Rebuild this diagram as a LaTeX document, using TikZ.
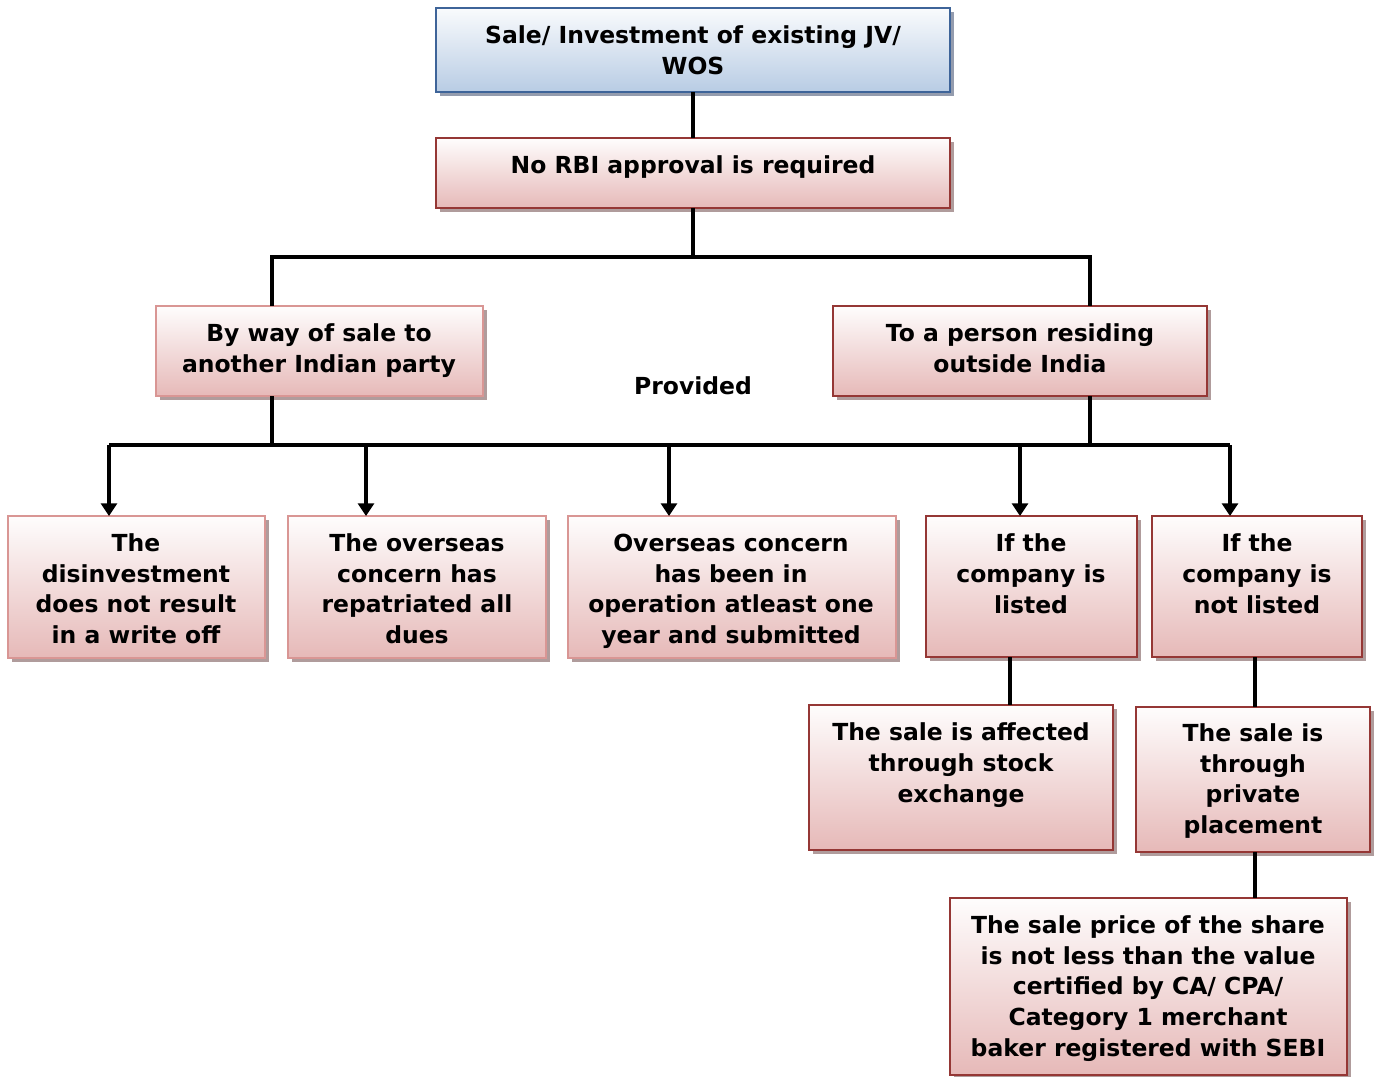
\documentclass[tikz,border=0pt]{standalone}
\usepackage{fontspec}
\setmainfont{DejaVu Sans}
\usetikzlibrary{arrows.meta,calc}
\definecolor{redline}{HTML}{953735}
\definecolor{pinkline}{HTML}{D99694}
\definecolor{blueline}{HTML}{3E6499}
\definecolor{redfill}{HTML}{E6B9B8}
\definecolor{bluefill}{HTML}{B8CCE4}
\definecolor{shadowred}{HTML}{B09C9C}
\definecolor{shadowblue}{HTML}{949CAE}
\tikzset{
  x=0.75pt, y=-0.75pt,
  box/.style={draw=redline, line width=2.2pt, top color=white!97!redfill, bottom color=redfill,
    inner sep=0pt, outer sep=0pt},
  softbox/.style={box, draw=pinkline},
  bluebox/.style={box, draw=blueline, top color=white!92!bluefill, bottom color=bluefill},
  % the base anchor of a multi-line text sits on its last line
  boxtext/.style={font=\bfseries\fontsize{17.6}{22.9}\selectfont, align=center, inner sep=0pt, anchor=base},
  link/.style={line width=2.3pt, black},
  arr/.style={link, -{Triangle[width=12pt 0,length=9.5pt 0]}},
}
% a box: name, left, top, right, bottom, style, shadow colour
\newcommand{\diagbox}[7]{%
  \fill[#7] (#2+4,#3+4) rectangle (#4+4,#5+4);
  \node[#6, minimum width={(#4-#2)*0.75pt}, minimum height={(#5-#3)*0.75pt}]
    (#1) at ({(#2+#4)/2},{(#3+#5)/2}) {};
}
\begin{document}
\begin{tikzpicture}
\fill[white] (0,0) rectangle (1379,1077);
\useasboundingbox (0,0) rectangle (1379,1077);

% boxes
\diagbox{top}{436}{8}{950}{92}{bluebox}{shadowblue}
\diagbox{rbi}{436}{138}{950}{208}{box}{shadowred}
\diagbox{indian}{156}{306}{483}{396}{softbox}{shadowred}
\diagbox{abroad}{833}{306}{1207}{396}{box}{shadowred}
\diagbox{writeoff}{8}{516}{265}{658}{softbox}{shadowred}
\diagbox{dues}{288}{516}{546}{658}{softbox}{shadowred}
\diagbox{operation}{568}{516}{896}{658}{softbox}{shadowred}
\diagbox{listed}{926}{516}{1137}{657}{box}{shadowred}
\diagbox{unlisted}{1152}{516}{1362}{657}{box}{shadowred}
\diagbox{stock}{809}{705}{1113}{850}{box}{shadowred}
\diagbox{private}{1136}{707}{1370}{852}{box}{shadowred}
\diagbox{price}{950}{898}{1347}{1075}{box}{shadowred}

% box texts (placed by the baseline of their last line)
\node[boxtext] (topT) at (693,74.5) {Sale/ Investment of existing JV/\\WOS};
\node[boxtext] (rbiT) at (693,174) {No RBI approval is required};
\node[boxtext] (indianT) at (319,372.5) {By way of sale to\\another Indian party};
\node[boxtext] (abroadT) at (1020,372.5) {To a person residing\\outside India};
\node[boxtext] (provided) at (693,394) {Provided};
\node[boxtext] (writeoffT) at (136,643.5) {The\\disinvestment\\does not result\\in a write off};
\node[boxtext] (duesT) at (417,643.5) {The overseas\\concern has\\repatriated all\\dues};
\node[boxtext] (operationT) at (731,643.5) {Overseas concern\\has been in\\operation atleast one\\year and submitted};
\node[boxtext] (listedT) at (1031,613) {If the\\company is\\listed};
\node[boxtext] (unlistedT) at (1257,613) {If the\\company is\\not listed};
\node[boxtext] (stockT) at (961,802) {The sale is affected\\through stock\\exchange};
\node[boxtext] (privateT) at (1253,833.5) {The sale is\\through\\private\\placement};
\node[boxtext] (priceT) at (1148,1056) {The sale price of the share\\is not less than the value\\certified by CA/ CPA/\\Category 1 merchant\\baker registered with SEBI};

% junction points
\coordinate (split) at (693,257);
\coordinate (barL) at (109,445);
\coordinate (barR) at (1230,445);
\coordinate (legL) at (272,0);
\coordinate (legR) at (1090,0);
\coordinate (a2) at (366,445);
\coordinate (a3) at (669,445);
\coordinate (a4) at (1020,445);
\coordinate (listedLeg) at (1010,0);
\coordinate (unlistedLeg) at (1255,0);

% connectors
\draw[link] (top.south) -- (rbi.north);
\draw[link] (rbi.south) -- (split);
\draw[link] (legL |- indian.north) -- (legL |- split) -- (legR |- split) -- (legR |- abroad.north);
\draw[link] (legL |- indian.south) -- (legL |- barL);
\draw[link] (legR |- abroad.south) -- (legR |- barL);
\draw[link] (barL) -- (barR);
\draw[arr] (barL) -- (barL |- writeoff.north);
\draw[arr] (a2) -- (a2 |- dues.north);
\draw[arr] (a3) -- (a3 |- operation.north);
\draw[arr] (a4) -- (a4 |- listed.north);
\draw[arr] (barR) -- (barR |- unlisted.north);
\draw[link] (listedLeg |- listed.south) -- (listedLeg |- stock.north);
\draw[link] (unlistedLeg |- unlisted.south) -- (unlistedLeg |- private.north);
\draw[link] (unlistedLeg |- private.south) -- (unlistedLeg |- price.north);
\end{tikzpicture}
\end{document}
